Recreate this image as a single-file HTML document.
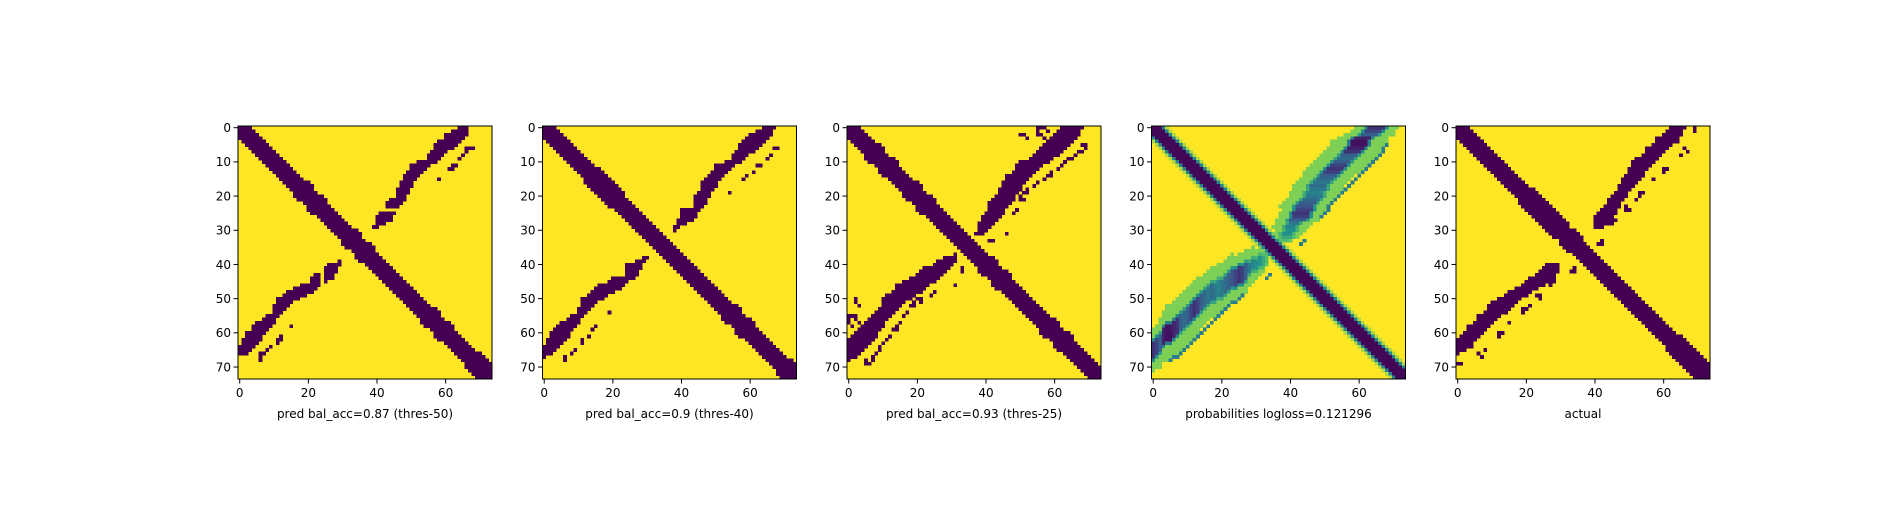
<!DOCTYPE html>
<html><head><meta charset="utf-8"><style>
html,body{margin:0;padding:0;background:#fff;}
svg text{font-family:"DejaVu Sans","Liberation Sans",sans-serif;font-size:12px;fill:#000;}
</style></head><body>
<svg id="fig" width="1900" height="500" viewBox="0 0 1900 500" xmlns="http://www.w3.org/2000/svg">
<rect width="1900" height="500" fill="#fff"/>
</svg>
<script>
// ---- data ----
const N = 74;
const panelTitles = ["pred bal_acc=0.87 (thres-50)","pred bal_acc=0.9 (thres-40)","pred bal_acc=0.93 (thres-25)","probabilities logloss=0.121296","actual"];
const xTicks = [0,20,40,60];
const yTicks = [0,10,20,30,40,50,60,70];

// binary panels: main diagonal half-widths per row
const p1MainHalf = [3,3,3,3,3,3,3,3,3,3,3,3,3,3,3,3,3,3,3,3,4,4,3,3,3,3,3,3,3,3,3,3,3,3,4,4,3,3,3,3,3,3,3,3,3,3,3,3,3,3,3,3,3,3,3,3,3,4,4,3,3,3,3,3,3,3,3,3,3,3,4,4,4,4];
const p2MainHalf = [3,3,3,3,3,3,3,3,3,3,3,3,3,3,3,3,4,4,4,4,3,3,3,3,3,3,3,3,3,3,3,3,3,3,3,3,3,3,3,3,3,3,3,3,3,3,3,3,3,3,3,3,3,3,3,3,4,4,3,3,3,3,3,3,3,3,3,3,3,3,3,3,4,4];
const p3MainHalf = [3,3,3,3,3,3,3,3,3,4,4,3,3,3,3,3,3,3,3,3,4,4,3,3,3,3,3,3,3,3,3,3,3,3,3,3,3,3,3,3,3,3,4,4,3,3,3,3,3,3,3,3,3,3,3,3,3,3,3,3,4,4,3,3,3,3,3,3,3,3,3,3,3,3];
const p5MainHalf = [3,3,3,3,3,3,3,3,3,3,3,3,3,3,3,3,3,3,3,3,3,3,4,4,4,4,3,3,3,3,4,4,4,3,3,3,3,3,3,3,3,3,3,3,3,3,3,3,3,3,3,3,3,3,3,3,3,3,3,3,3,3,3,3,3,4,4,4,4,4,4,4,3,3];

// anti-diagonal band (upper-right, rows 0..) lo/hi columns, -1 = none
const p1AntiLo = [64,62,60,60,58,57,57,56,55,55,52,50,50,49,48,48,47,47,46,46,46,44,43,43,-1,41,40,40,40,39];
const p1AntiHi = [66,66,66,65,64,63,62,60,59,58,57,55,54,53,52,51,50,50,49,49,48,48,47,46,-1,45,44,44,42,40];
const p2AntiLo = [64,62,60,59,58,57,57,56,55,55,53,50,50,49,48,47,46,46,46,45,44,44,44,44,40,40,40,39,39,38,38];
const p2AntiHi = [67,66,66,65,64,63,62,61,59,58,57,55,54,53,52,51,50,50,49,48,48,47,47,46,45,44,44,43,41,39,38];
const p3AntiLo = [62,61,60,59,58,57,56,55,54,53,50,49,49,48,46,46,45,45,44,44,43,42,41,41,41,40,39,39,38,38,38,37];
const p3AntiHi = [68,67,67,66,65,64,63,62,61,59,58,56,55,54,53,52,51,50,50,49,48,48,47,46,45,45,44,43,42,41,40,39];
const p5AntiLo = [62,61,60,58,58,57,55,55,54,52,51,51,50,50,49,48,48,47,47,46,45,44,44,43,42,41,40,40,40,40];
const p5AntiHi = [66,65,65,64,64,62,61,60,59,58,57,56,55,54,54,53,52,51,50,49,49,48,47,47,46,46,45,46,45,42];

// isolated dark cells [row, col] (upper triangle; mirrored)
const p1Specks = [[6,66],[6,67],[6,68],[7,66],[8,65],[9,64],[11,62],[11,63],[12,61],[12,62],[15,58]];
const p2Specks = [[6,67],[6,68],[8,66],[9,65],[11,62],[11,63],[13,61],[14,59],[15,58],[19,54]];
const p3Specks = [[0,55],[0,56],[0,57],[1,55],[1,58],[2,50],[2,51],[2,55],[2,56],[3,52],[3,57],[5,68],[5,69],[6,69],[7,67],[7,68],[8,66],[9,64],[9,65],[10,63],[11,62],[12,61],[13,59],[14,58],[14,59],[15,57],[16,55],[17,54],[18,52],[19,51],[19,52],[20,50],[21,50],[21,51],[24,49],[25,48],[31,46],[33,41],[33,42]];
const p5Specks = [[0,69],[1,69],[6,66],[7,67],[8,65],[12,60],[12,61],[13,60],[15,57],[19,53],[19,54],[20,53],[21,52],[23,49],[24,49],[24,50],[33,42],[34,41],[34,42]];

// probability panel: anti band per row (values: 0 = contact/dark, 1 = none/yellow)
const p4AntiCenter = [65,64,63,61,60,60,59,58,57,56,55,54,53,52,51,50,49,48,48,47,47,46,45,44,44,43,43,42,41,40,40,39,39,38];
const p4AntiCore   = [2,2,2,2,2,2,2,2,2,2,2,2,2,2,2,2,2,2,2,2,2,2,2,2,2,2,2,2,1,1,1,1,1,1];
const p4AntiDark   = [0.15,0.2,0.3,0.1,0.05,0.05,0.1,0.15,0.3,0.35,0.3,0.2,0.15,0.2,0.3,0.35,0.4,0.35,0.4,0.45,0.4,0.35,0.3,0.25,0.2,0.15,0.2,0.3,0.4,0.45,0.5,0.5,0.6,0.7];
const p4AntiHalo   = [6,6,7,7,8,8,8,8,8,8,8,8,8,8,7,7,7,7,7,7,7,7,7,7,6,6,6,6,5,5,4,4,3,2];
const p4SecCol     = [-1,-1,-1,-1,-1,68,67,67,66,65,64,63,62,61,60,59,58,57,56,55,54,53,52,51,51,50,49,-1,-1,-1,-1,-1,-1,44,43];
const p4MainProfile = [0.02,0.02,0.02,0.45,0.88]; // by |col-row|
const p4HaloValue = 0.8;
const p4SecValue = 0.42;

// ---- layout ----
const panelLefts = [238,542.5,847,1151.5,1456];
const TOP = 126, W = 254, H = 253;
const svg = document.getElementById('fig');
const NS = 'http://www.w3.org/2000/svg';
function mk(tag, attrs, parent){const e=document.createElementNS(NS,tag);for(const k in attrs)e.setAttribute(k,attrs[k]);(parent||svg).appendChild(e);return e;}

const stops=[[0,[68,1,84]],[0.25,[59,82,139]],[0.5,[33,145,140]],[0.75,[94,201,98]],[1,[253,231,37]]];
function viridis(v){v=Math.max(0,Math.min(1,v));for(let i=1;i<stops.length;i++){if(v<=stops[i][0]){const a=stops[i-1],b=stops[i];const t=(v-a[0])/(b[0]-a[0]);const c=a[1].map((x,j)=>Math.round(x+(b[1][j]-x)*t));return `rgb(${c[0]},${c[1]},${c[2]})`;}}return 'rgb(253,231,37)';}

function emptyM(){return Array.from({length:N},()=>new Array(N).fill(1));}
function binaryMatrix(mainHalf, lo, hi, specks){
  const M=emptyM();
  for(let r=0;r<N;r++){const h=mainHalf[r];for(let c=r-h;c<=r+h;c++)if(c>=0&&c<N)M[r][c]=0;}
  for(let r=0;r<lo.length;r++){if(lo[r]<0)continue;for(let c=lo[r];c<=hi[r];c++)if(c<N)M[r][c]=0;}
  specks.forEach(([r,c])=>{M[r][c]=0;});
  return symm(M);
}
function symm(M){const S=emptyM();for(let r=0;r<N;r++)for(let c=0;c<N;c++)S[r][c]=Math.min(M[r][c],M[c][r]);return S;}
function probMatrix(){
  const M=emptyM();
  for(let r=0;r<N;r++)for(let c=0;c<N;c++){const d=Math.abs(c-r);if(d<p4MainProfile.length)M[r][c]=Math.min(M[r][c],p4MainProfile[d]);}
  for(let r=0;r<p4AntiCenter.length;r++){
    const ctr=p4AntiCenter[r];
    for(let c=ctr-p4AntiHalo[r];c<=ctr+p4AntiHalo[r];c++){if(c<0||c>=N)continue;
      const d=Math.abs(c-ctr);
      let v = d<=p4AntiCore[r] ? p4AntiDark[r] : (d<=p4AntiCore[r]+1 ? (p4AntiDark[r]+p4HaloValue)/2 : p4HaloValue);
      M[r][c]=Math.min(M[r][c],v);}
  }
  for(let r=0;r<p4SecCol.length;r++){if(p4SecCol[r]>=0)M[r][p4SecCol[r]]=Math.min(M[r][p4SecCol[r]],p4SecValue);}
  return symm(M);
}

const matrices=[
  binaryMatrix(p1MainHalf,p1AntiLo,p1AntiHi,p1Specks),
  binaryMatrix(p2MainHalf,p2AntiLo,p2AntiHi,p2Specks),
  binaryMatrix(p3MainHalf,p3AntiLo,p3AntiHi,p3Specks),
  probMatrix(),
  binaryMatrix(p5MainHalf,p5AntiLo,p5AntiHi,p5Specks)
];

matrices.forEach((M,p)=>{
  const L=panelLefts[p], cw=W/N, ch=H/N;
  const xs=v=>L+(v+0.5)*cw, ys=v=>TOP+(v+0.5)*ch;
  const g=mk('g',{});
  
  
  const bg=mk('rect',{x:L,y:TOP,width:W,height:H,fill:viridis(1)},g);
  
  
  for(let r=0;r<N;r++){
    let c=0;
    while(c<N){
      const v=M[r][c];
      if(v>=1){c++;continue;}
      const col=viridis(v);let e=c+1;
      while(e<N&&M[r][e]<1&&viridis(M[r][e])===col)e++;
      const x0=L+c*cw, y0=TOP+r*ch;
      const cell=mk('rect',{x:x0.toFixed(2),y:y0.toFixed(2),width:((e-c)*cw+0.3).toFixed(2),height:(ch+0.3).toFixed(2),fill:col,'shape-rendering':'crispEdges'},g);
      
      
      c=e;
    }
  }
  const fr=mk('rect',{x:L,y:TOP,width:W,height:H,fill:'none',stroke:'#000','stroke-width':1},g);
  
  
  xTicks.forEach(t=>{
    mk('line',{x1:xs(t),x2:xs(t),y1:TOP+H,y2:TOP+H+4.5,stroke:'#000','stroke-width':1},g);
    const tx=mk('text',{x:xs(t),y:TOP+H+18,'text-anchor':'middle'},g);
    tx.textContent=t;
    
    
  });
  yTicks.forEach(t=>{
    mk('line',{x1:L-4.5,x2:L,y1:ys(t),y2:ys(t),stroke:'#000','stroke-width':1},g);
    const ty=mk('text',{x:L-7,y:ys(t)+4.3,'text-anchor':'end'},g);
    ty.textContent=t;
    
    
  });
  const lab=mk('text',{x:L+W/2,y:418,'text-anchor':'middle'},g);
  lab.textContent=panelTitles[p];
  
  
});
</script>
</body></html>
